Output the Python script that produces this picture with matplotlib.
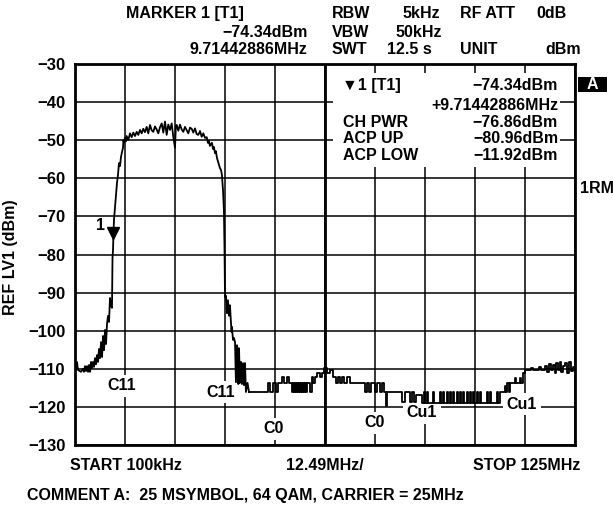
import matplotlib.pyplot as plt
from matplotlib import font_manager as fm
from matplotlib.patches import Rectangle

# --- spectrum analyser screenshot: ACP of a 25 MSymbol 64-QAM carrier ---
f_start, f_stop = 0.1, 125.0        # MHz
ref_top, ref_bottom = -30, -130     # dBm
n_div = 10

# main lobe + skirts (smooth part of the trace)
hump_mhz = [0.1, 0.35, 0.6, 0.85, 1.6, 2.1, 2.35, 2.6, 2.85, 3.1, 3.35, 3.6, 3.85,
            4.1, 4.35, 4.6, 4.85, 5.1, 5.35, 5.6, 5.85, 6.1, 6.35, 6.6, 6.85, 7.1,
            7.35, 7.6, 7.85, 8.1, 8.35, 8.6, 8.84, 9.1, 9.34, 9.47, 9.6, 9.71, 9.84,
            10.34, 10.59, 10.84, 11.09, 11.34, 11.59, 11.84, 12.09, 12.2, 12.34, 12.59,
            12.8, 13.0, 13.4, 13.84, 14.26, 14.66, 15.09, 15.51, 15.91, 16.34, 16.76,
            17.16, 17.59, 18.01, 18.41, 18.84, 19.26, 19.66, 20.08, 20.51, 20.91,
            21.33, 21.76, 22.16, 22.58, 23.0, 23.4, 23.83, 24.25, 24.65, 25.08, 25.3,
            25.5, 25.9, 26.33, 26.75, 27.15, 27.58, 28.0, 28.4, 28.83, 29.25, 29.65,
            30.08, 30.5, 30.9, 31.33, 31.75, 32.15, 32.57, 33.0,
            33.3, 33.57, 33.8, 34.3, 34.57, 34.8, 35.07, 35.3, 35.57, 36.07, 36.3,
            36.57, 36.8, 37.07, 37.3, 37.45, 37.57, 37.8, 38.07, 38.3, 38.57, 38.8,
            39.07, 39.2, 39.3, 39.57, 39.8, 40.07, 40.3, 40.57, 40.8, 40.9, 41.07,
            41.3, 41.57, 41.8, 42.07, 42.3, 42.57, 42.8, 43.2, 43.57]
hump_dbm = [-108.0, -109.8, -108.2, -110.3, -110.8, -110.0, -110.8, -109.3, -110.6,
            -109.3, -110.8, -109.0, -110.8, -108.2, -109.8, -108.2, -109.5, -107.2,
            -108.8, -106.4, -108.2, -104.8, -107.2, -103.0, -106.9, -101.4, -105.1,
            -99.8, -103.5, -98.2, -96.1, -97.7, -91.4, -93.5, -94.0, -80.9, -78.8,
            -74.3, -70.9, -64.4, -61.2, -59.1, -56.0, -56.8, -54.4, -53.1, -52.0,
            -50.0, -50.7, -49.4,
            -50.3, -48.9, -50.0, -48.2, -49.2, -48.0, -48.9, -47.8, -48.6, -47.3,
            -48.2, -47.0, -47.9, -46.5, -48.2, -46.0, -47.4, -47.8, -46.4, -47.2,
            -48.2, -46.6, -45.6, -48.0, -45.1, -48.6, -45.9, -47.3, -45.6, -49.1,
            -52.0, -46.2, -46.0, -47.5, -45.9, -47.2, -47.8, -46.5, -47.4, -48.2,
            -46.7, -47.0, -48.0, -46.9, -48.4, -48.6, -47.6, -49.1, -48.2, -49.4,
            -49.2,
            -50.7, -50.2, -51.5, -50.7, -52.3, -51.8, -53.4, -52.9, -54.7, -56.5,
            -57.3, -57.8, -59.1, -63.1, -68.3, -78.8, -91.2, -90.8, -95.4, -92.0,
            -96.1, -93.3, -98.0, -100.3, -99.0, -102.4, -101.9, -103.0, -113.5,
            -103.8, -105.6, -114.0, -104.6, -113.7, -108.2, -114.0, -108.5, -114.3,
            -108.5, -116.1, -113.7, -116.1]

# noise floor, held level from each start frequency (step trace)
floor_mhz = [43.6, 48.3, 48.8, 49.5, 50.3, 50.8, 51.8, 52.3, 53.1, 53.6, 54.3, 54.6,
             54.8, 55.1, 55.3, 55.6, 55.8, 56.1, 56.3, 56.6, 56.8, 57.1, 57.3, 57.6,
             57.8, 58.1, 58.8, 59.3, 59.6, 60.1, 60.6, 61.3, 61.8, 62.3, 63.1, 63.8,
             64.6, 65.4, 65.8, 66.3, 66.8, 67.3, 68.1, 68.8, 72.5, 73.0, 73.5, 74.0,
             75.0, 75.5, 76.3, 76.8, 77.3, 77.8, 78.1, 81.8, 82.6, 83.8, 84.3, 84.8,
             85.3, 86.8, 87.3, 87.55, 88.0, 88.25, 89.5, 89.75, 91.3, 91.55, 92.0,
             92.25, 93.0, 93.25, 93.8, 94.05, 94.5, 94.75, 95.5, 95.75, 96.3, 96.55,
             97.0, 97.25, 98.0, 98.25, 98.8, 99.05, 99.5, 99.75, 100.5, 100.75,
             101.3, 101.55, 103.0, 103.25, 103.8, 104.05, 105.5, 105.75, 106.3,
             107.5, 107.8, 108.1, 108.4, 108.8, 110.0, 110.3, 111.2, 111.5, 112.0,
             112.5, 114.0, 114.5, 116.0, 116.5, 117.5, 118.0, 118.5, 119.0, 119.5,
             120.0, 120.3, 120.8, 121.3, 121.6, 122.0, 122.5, 123.0, 123.5, 124.0,
             124.5, 125.0]
floor_dbm = [-116.1, -113.7, -116.1, -113.7, -116.1, -113.7, -112.2, -113.7, -112.2,
             -113.7, -116.1, -113.7, -116.1, -113.7, -116.1, -113.7, -116.1, -113.7,
             -116.1, -113.7, -116.1, -113.7, -116.1, -113.7, -116.1, -113.7, -116.1,
             -112.2, -113.7, -112.2, -111.1, -112.2, -111.1, -109.8, -111.1, -110.3,
             -112.2, -113.7, -112.2, -113.7, -112.2, -113.7, -112.2, -113.7, -116.1,
             -113.7, -116.1, -113.7, -116.1, -113.7, -116.1, -113.7, -116.1, -119.8,
             -116.1, -118.7, -116.1, -118.7, -116.1, -118.7, -116.8, -119.0, -116.2,
             -119.0, -116.2, -119.0, -116.2, -119.0, -116.2, -119.0, -116.2, -119.0,
             -116.2, -119.0, -116.2, -119.0, -116.2, -119.0, -116.2, -119.0, -116.2,
             -119.0, -116.2, -119.0, -116.2, -119.0, -116.2, -119.0, -116.2, -119.0,
             -116.2, -119.0, -116.2, -119.0, -116.2, -119.0, -116.2, -119.0, -116.2,
             -119.0, -116.1, -114.5, -116.1, -113.7, -116.1, -113.7, -112.5, -113.7,
             -112.5, -113.7, -111.1, -110.3, -109.8, -110.3, -109.6, -110.3, -109.2,
             -110.8, -108.7, -110.3, -109.0, -111.1, -108.5, -110.3, -108.2, -110.8,
             -109.2, -108.6, -111.1, -108.3, -110.5, -109.6, -110.3]

marker_mhz, marker_dbm = 9.71442886, -74.34

channel_labels = ["C11", "C11", "C0", "C0", "Cu1", "Cu1"]
channel_mhz = [11.84, 36.57, 49.81, 74.9, 86.78, 111.76]
channel_dbm = [-114.5, -116.1, -125.8, -124.2, -121.6, -119.25]

readout_names = ["CH PWR", "ACP UP", "ACP LOW"]
readout_values = ["\u221276.86dBm", "\u221280.96dBm", "\u221211.92dBm"]

W, H = 613, 505
FS = 11.5

# pick a sans family that really ships a bold face
family = 'DejaVu Sans'
for cand in ['Liberation Sans', 'Roboto', 'Noto Sans', 'Inter']:
    path = fm.findfont(fm.FontProperties(family=cand, weight='bold'), fallback_to_default=False)
    if 'bold' in path.lower().replace('-', '').replace('_', ''):
        family = cand
        break
plt.rcParams['font.family'] = [family, 'DejaVu Sans']
plt.rcParams['font.weight'] = 'bold'
plt.rcParams['axes.labelweight'] = 'bold'

fig = plt.figure(figsize=(W / 100, H / 100), dpi=100)
ax = fig.add_axes([75 / W, 60 / H, 500 / W, 381 / H])


def put(x, y, s, ha='left', **kw):
    # x, y in screen pixels, y is the text baseline
    fig.text(x / W, 1 - y / H, s, ha=ha, va='baseline', fontsize=FS,
             fontweight='bold', **kw)


span = f_stop - f_start
div_mhz = [f_start + i * span / n_div for i in range(n_div + 1)]

ax.set_xlim(f_start, f_stop)
ax.set_ylim(ref_bottom, ref_top)
ax.set_xticks(div_mhz)
ax.set_xticklabels([])
ax.set_yticks(range(ref_bottom, ref_top + 1, 10))
ax.tick_params(length=0, labelsize=12, pad=7)
for t in ax.get_yticklabels():
    t.set_fontweight('bold')
ax.set_axisbelow(True)
ax.grid(True, color='black', lw=1.1)
for sp in ax.spines.values():
    sp.set_linewidth(2.0)
ax.axvline(div_mhz[5], color='black', lw=2.0, zorder=2)

# readout box blanks the grid in the upper right
ax.add_patch(Rectangle((64.55, -57.0), 121.25 - 64.55, 24.6,
                       fc='white', ec='none', zorder=1.5))

for lbl, x, y in zip(channel_labels, channel_mhz, channel_dbm):
    ax.text(x, y, lbl, ha='center', va='center', fontsize=FS, fontweight='bold',
            zorder=3, bbox=dict(fc='white', ec='none', pad=2.5))

ax.plot(hump_mhz, hump_dbm, color='black', lw=1.3, zorder=4)
ax.plot(floor_mhz, floor_dbm, color='black', lw=1.3, drawstyle='steps-post', zorder=4)

ax.plot(marker_mhz, marker_dbm, marker='v', ms=9, color='black', zorder=5)
ax.annotate('1', (marker_mhz, marker_dbm), xytext=(-9.5, 5), textcoords='offset points',
            ha='center', va='center', fontsize=FS, fontweight='bold')

ax.set_ylabel('REF LV1 (dBm)', fontsize=FS, fontweight='bold')
ax.yaxis.set_label_coords(-(75 - 18) / 500, (445 - 257) / 381)

# header
put(126, 18, 'MARKER 1 [T1]')
put(332, 18, 'RBW')
put(440, 18, '5kHz', ha='right')
put(460, 18, 'RF ATT')
put(567, 18, '0dB', ha='right')
put(308, 37, '\u221274.34dBm', ha='right')
put(332, 37, 'VBW')
put(442, 37, '50kHz', ha='right')
put(307, 54.5, '9.71442886MHz', ha='right')
put(332, 54.5, 'SWT')
put(432, 54.5, '12.5 s', ha='right')
put(460, 54.5, 'UNIT')
put(581, 54.5, 'dBm', ha='right')

# marker readout
put(342, 90, '\u25bc1 [T1]')
put(558, 90, '\u221274.34dBm', ha='right')
put(558, 109.5, '+9.71442886MHz', ha='right')
for i, (name, val) in enumerate(zip(readout_names, readout_values)):
    yb = 126.7 + i * 16.7
    put(343, yb, name)
    put(558, yb, val, ha='right')

# side annotations
fig.add_artist(Rectangle((578 / W, 1 - 92 / H), 29 / W, 15 / H,
                         transform=fig.transFigure, fc='black', ec='none'))
put(592.5, 89.5, 'A', ha='center', color='white')
put(580, 193, '1RM')

# footer
put(70, 470, 'START 100kHz')
put(325, 470, '12.49MHz/', ha='center')
put(580, 470, 'STOP 125MHz', ha='right')
put(27, 500, 'COMMENT A:  25 MSYMBOL, 64 QAM, CARRIER = 25MHz')

fig.savefig('out.png', dpi=100)
